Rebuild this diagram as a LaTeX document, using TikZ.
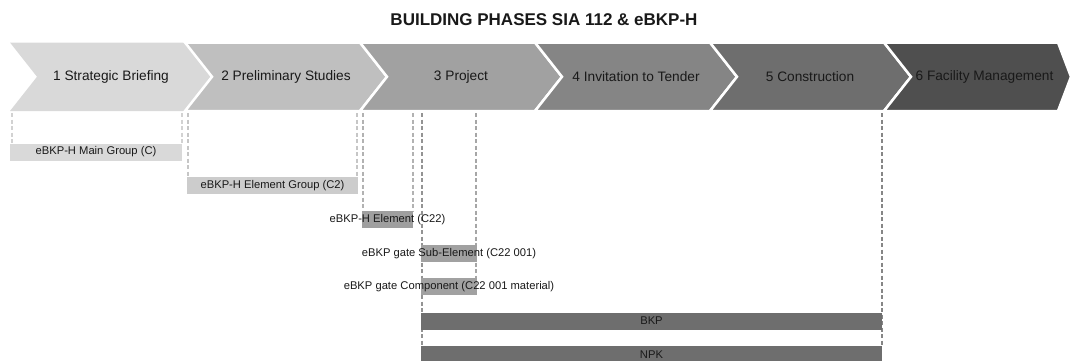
\documentclass[tikz,border=0pt]{standalone}
\usepackage{fontspec}
\setmainfont{Liberation Sans}
\usetikzlibrary{backgrounds}
\definecolor{ch1}{gray}{0.85}
\definecolor{ch2}{gray}{0.75}
\definecolor{ch3}{gray}{0.63}
\definecolor{ch4}{gray}{0.52}
\definecolor{ch5}{gray}{0.43}
\definecolor{ch6}{gray}{0.31}
\definecolor{txt}{gray}{0.1}
\tikzset{
  chev/.style={draw=white, line width=2.5pt, line join=miter},
  chevtext/.style={font=\fontsize{13.7}{16}\selectfont, text=txt, inner sep=0pt},
  bar/.style={draw=none, minimum height=17pt, inner sep=0pt},
  bartext/.style={font=\fontsize{11.2}{13}\selectfont, text=txt, inner sep=0pt},
  dl/.style={line width=2pt, dash pattern=on 4pt off 2.5pt},
}
\begin{document}
\begin{tikzpicture}[x=1pt,y=1pt]
\useasboundingbox (0,0) rectangle (1071,-360);
\clip (0,0) rectangle (1071,-360);
% title
\node[font=\bfseries\fontsize{17}{20}\selectfont, text=txt, inner sep=0pt] (title) at (544,-20) {BUILDING PHASES SIA 112 \& eBKP-H};
% chevrons
\fill[ch1] (10,-42.5) -- (185,-42.5) -- (212,-76.75) -- (185,-111) -- (10,-111) -- (37,-76.75) -- cycle;
\draw[chev,fill=ch2] (185,-42.5) -- (360,-42.5) -- (387,-76.75) -- (360,-111) -- (185,-111) -- (212,-76.75) -- cycle;
\draw[chev,fill=ch3] (360,-42.5) -- (535,-42.5) -- (562,-76.75) -- (535,-111) -- (360,-111) -- (387,-76.75) -- cycle;
\draw[chev,fill=ch4] (535,-42.5) -- (710,-42.5) -- (737,-76.75) -- (710,-111) -- (535,-111) -- (562,-76.75) -- cycle;
\draw[chev,fill=ch5] (710,-42.5) -- (884,-42.5) -- (911,-76.75) -- (884,-111) -- (710,-111) -- (737,-76.75) -- cycle;
\draw[chev,fill=ch6] (884,-42.5) -- (1058,-42.5) -- (1071,-76.75) -- (1058,-111) -- (884,-111) -- (911,-76.75) -- cycle;
\node[chevtext] (p1) at (111,-76.75) {1 Strategic Briefing};
\node[chevtext] (p2) at (286,-76.75) {2 Preliminary Studies};
\node[chevtext] (p3) at (461,-76.75) {3 Project};
\node[chevtext] (p4) at (636,-76.75) {4 Invitation to Tender};
\node[chevtext] (p5) at (810,-76.75) {5 Construction};
\node[chevtext] (p6) at (984.5,-76.75) {6 Facility Management};
% bars
\node[bar, fill=ch1, minimum width=172pt] (mg) at (96,-152) {};
\node[bartext] (mgt) at (mg) {eBKP-H Main Group (C)};
\node[bar, fill=gray!40!white, minimum width=171pt] (eg) at (272.5,-185.5) {};
\node[bartext] (egt) at (eg) {eBKP-H Element Group (C2)};
\node[bar, fill=gray!75!white, minimum width=51pt] (el) at (387.5,-219.5) {};
\node[bartext] (elt) at (el) {eBKP-H Element (C22)};
\node[bar, fill=ch3, minimum width=56pt] (se) at (449,-253.5) {};
\node[bartext] (set) at (se) {eBKP gate Sub-Element (C22 001)};
\node[bar, fill=ch3, minimum width=56pt] (co) at (449,-286.5) {};
\node[bartext] (cot) at (co) {eBKP gate Component (C22 001 material)};
\node[bar, fill=ch5, minimum width=461pt] (bkp) at (651.5,-321) {};
\node[bartext] (bkpt) at (bkp) {BKP};
\node[bar, fill=ch5, minimum width=461pt, anchor=north] (npk) at (651.5,-346) {};
\node[bartext] (npkt) at (651.5,-355) {NPK};
% dashed lines
\coordinate (t1) at (12,-113);
\coordinate (t2) at (182,-113);
\coordinate (t3) at (188,-113);
\coordinate (t4) at (357,-113);
\coordinate (t5) at (362.5,-113);
\coordinate (t6) at (412.5,-113);
\coordinate (t7) at (421.5,-113);
\coordinate (t8) at (476,-113);
\coordinate (t9) at (881.5,-113);
\begin{scope}[on background layer]
\draw[dl, gray!35] (t1) -- (t1 |- mg.north);
\draw[dl, gray!35] (t2) -- (t2 |- mg.north);
\draw[dl, gray!45] (t3) -- (t3 |- eg.north);
\draw[dl, gray!45] (t4) -- (t4 |- eg.north);
\draw[dl, gray!60] (t5) -- (t5 |- el.north);
\draw[dl, gray!60] (t6) -- (t6 |- el.north);
\draw[dl, gray!85] (t7) -- (t7 |- npk.north);
\draw[dl, gray!70] (t8) -- (t8 |- co.north);
\draw[dl, gray!95] (t9) -- (t9 |- npk.north);
\end{scope}
\end{tikzpicture}
\end{document}
